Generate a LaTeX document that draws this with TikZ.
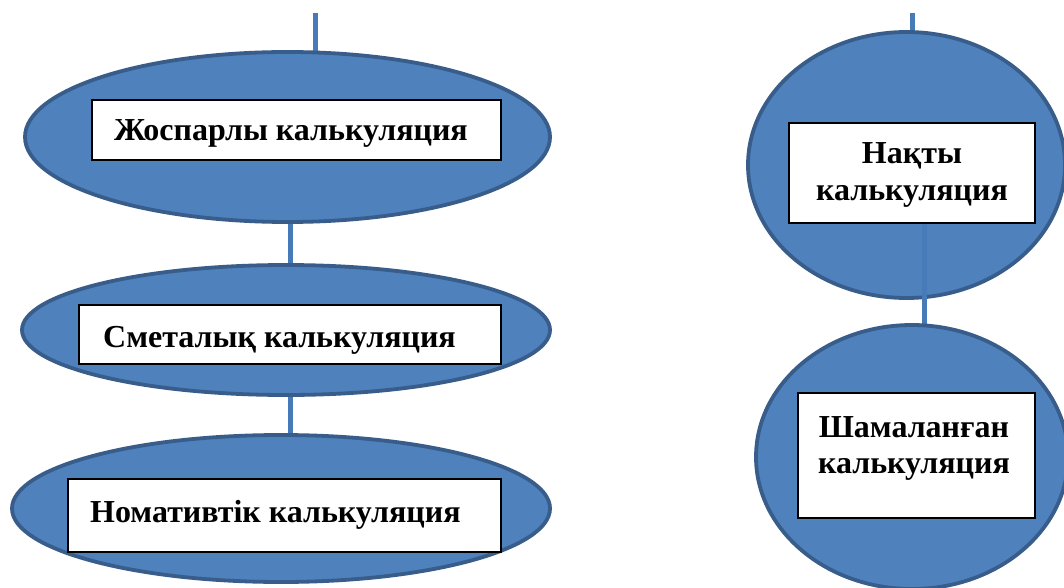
\documentclass[tikz,border=0pt]{standalone}
\usepackage{fontspec}
\setmainfont{Liberation Serif}
\usetikzlibrary{shapes.geometric,calc}
\definecolor{ofill}{HTML}{4F81BD}
\definecolor{oline}{HTML}{385D8A}
\definecolor{lnk}{HTML}{467AB9}
\tikzset{
  oval/.style={ellipse, fill=ofill, draw=oline, line width=3.8pt, inner sep=0pt},
  lbl/.style={rectangle, fill=white, draw=black, line width=1.5pt, inner sep=0pt},
  txt/.style={inner sep=0pt, font=\bfseries\fontsize{32}{36}\selectfont},
  link/.style={draw=lnk, line width=5pt}
}
\begin{document}
\begin{tikzpicture}[x=1pt,y=-1pt]
\fill[white] (0,0) rectangle (1064,588);
\useasboundingbox (0,0) rectangle (1064,588);
\clip (0,0) rectangle (1064,588);
% coordinates for connectors
\coordinate (t1) at (315,13);
\coordinate (t1e) at (315,60);
\coordinate (t2) at (912,13);
\coordinate (t2e) at (912,40);
\coordinate (l1) at (290,215);
\coordinate (l2) at (290,272);
\coordinate (l3) at (290,388);
\coordinate (l4) at (290,442);
\coordinate (c4) at (924,223);
\coordinate (c5) at (924,335);
% connectors behind the ovals
\draw[link] (t1) -- (t1e);
\draw[link] (l1) -- (l2);
\draw[link] (l3) -- (l4);
\draw[link] (t2) -- (t2e);
% ovals
\node[oval, minimum width=525pt, minimum height=170pt] (e1) at (287.5,137) {};
\node[oval, minimum width=528pt, minimum height=130pt] (e2) at (286,330) {};
\node[oval, minimum width=538pt, minimum height=147pt] (e3) at (281,508.5) {};
\node[oval, minimum width=317pt, minimum height=266pt] (e4) at (906.5,165) {};
\draw[link] (c4) -- (c5);
\node[oval, minimum width=312pt, minimum height=264pt] (e5) at (912,457) {};
% label boxes
\node[lbl, minimum width=409pt, minimum height=60pt] (b1) at (296.5,130) {};
\node[lbl, minimum width=422pt, minimum height=59pt] (b2) at (290,334.5) {};
\node[lbl, minimum width=433pt, minimum height=73pt] (b3) at (284.5,515.5) {};
\node[lbl, minimum width=246pt, minimum height=100pt] (b4) at (912,173) {};
\node[lbl, minimum width=237pt, minimum height=125pt] (b5) at (916.5,455.5) {};
% texts
\node[txt, anchor=base west] (x1) at (114,141) {Жоспарлы калькуляция};
\node[txt, anchor=base west] (x2) at (103,347) {Сметалық калькуляция};
\node[txt, anchor=base west] (x3) at (90,522) {Номативтік калькуляция};
\node[txt, anchor=base] (x4a) at (912,164) {Нақты};
\node[txt, anchor=base] (x4b) at (912,200) {калькуляция};
\node[txt, anchor=base] (x5a) at (914,437) {Шамаланған};
\node[txt, anchor=base] (x5b) at (914,473) {калькуляция};
\end{tikzpicture}
\end{document}
